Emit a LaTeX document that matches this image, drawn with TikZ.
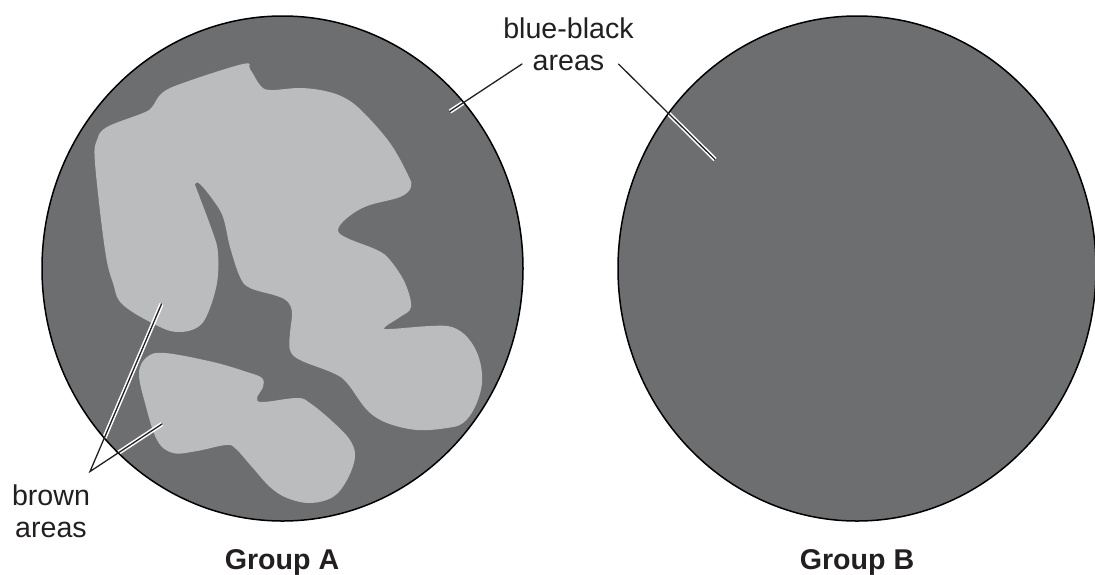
\documentclass[tikz,border=0pt]{standalone}
\usepackage{fontspec}
\setmainfont{Liberation Sans}
\definecolor{darkarea}{HTML}{6D6E70}
\definecolor{lightarea}{HTML}{BBBCBE}
\definecolor{inktext}{HTML}{231F20}
\tikzset{
  disc/.style={draw=black,line width=1.5pt},
  patch/.style={fill=lightarea,draw=none},
  label/.style={text=inktext,font=\fontsize{28.6}{32}\selectfont,align=center,inner sep=0pt},
  heading/.style={text=inktext,font=\fontsize{28.6}{32}\selectfont\bfseries,inner sep=0pt,anchor=base},
  halo/.style={draw=white,line width=4.4pt},
  leader/.style={draw=inktext,line width=1.3pt,line cap=round}
}
\begin{document}
\begin{tikzpicture}[x=1pt,y=-1pt]
\useasboundingbox (0,0) rectangle (1095,574);

% Two stained discs
\coordinate (cA) at (282.5,268.5);
\coordinate (cB) at (857,268.5);
\fill[darkarea] (cA) ellipse[x radius=240.5pt,y radius=252.5pt];
\fill[darkarea] (cB) ellipse[x radius=239pt,y radius=252.5pt];

% Larger pale region of the left disc
\fill[patch] plot[smooth cycle,tension=0.6] coordinates {
 (243,64) (250,69) (260,85) (270,90) (300,88) (325,91) (345,98) (363,112) (390,143)
 (408,175) (411,187) (400,197) (367,206) (347,218) (338,230) (347,238)
 (377,250) (390,260) (405,283) (411,307) (400,317) (385,327) (390,329)
 (430,326) (452,327) (468,338) (479,358) (482,383) (475,407) (463,423)
 (447,428) (417,430) (387,423) (367,410) (347,383) (333,373) (300,360)
 (290,350) (290,333) (292,313) (288,302) (277,296) (250,288) (240,277)
 (230,247) (223,217) (213,200) (200,184) (195,184) (197,190) (213,233)
 (218,253) (217,283) (208,313) (198,327) (180,332) (160,327) (123,305)
 (113,283) (105,250) (95,163) (97,140) (107,127) (143,113) (152,107)
 (162,93) (183,83)};

% Smaller pale region of the left disc
\fill[patch] plot[smooth cycle,tension=0.6] coordinates {
 (165,353) (147,357) (139,373) (145,403) (157,440) (173,453) (197,451)
 (226,445) (236,449) (252,467) (270,487) (287,498) (310,503) (333,497) (347,480)
 (355,457) (350,440) (333,422) (310,403) (297,398) (263,402) (257,398)
 (263,387) (262,378) (247,372) (213,362)};

% Leader end points
\coordinate (tipBrown) at (90,471.5);
\coordinate (endBrownUpper) at (161.5,304);
\coordinate (endBrownLower) at (162,424);
\coordinate (startBlueLeft) at (522,64);
\coordinate (endBlueLeft) at (450,111.5);
\coordinate (startBlueRight) at (618.5,64);
\coordinate (endBlueRight) at (715,159.5);

% White casing of the leaders, visible only on the discs
\begin{scope}
  \clip (cA) ellipse[x radius=240.5pt,y radius=252.5pt];
  \draw[halo] (tipBrown) -- (endBrownUpper);
  \draw[halo] (tipBrown) -- (endBrownLower);
  \draw[halo] (startBlueLeft) -- (endBlueLeft);
\end{scope}
\begin{scope}
  \clip (cB) ellipse[x radius=239pt,y radius=252.5pt];
  \draw[halo] (startBlueRight) -- (endBlueRight);
\end{scope}

% Disc outlines
\draw[disc] (cA) ellipse[x radius=240.5pt,y radius=252.5pt];
\draw[disc] (cB) ellipse[x radius=239pt,y radius=252.5pt];

% Leaders
\draw[leader,line join=miter] (endBrownUpper) -- (tipBrown) -- (endBrownLower);
\draw[leader] (startBlueLeft) -- (endBlueLeft);
\draw[leader] (startBlueRight) -- (endBlueRight);

% Labels
\node[label] (blue) at (568.5,44) {blue-black\\areas};
\node[label] (brown) at (51,511) {brown\\areas};
\node[heading] (groupA) at (282,569) {Group A};
\node[heading] (groupB) at (857,569) {Group B};
\end{tikzpicture}
\end{document}
